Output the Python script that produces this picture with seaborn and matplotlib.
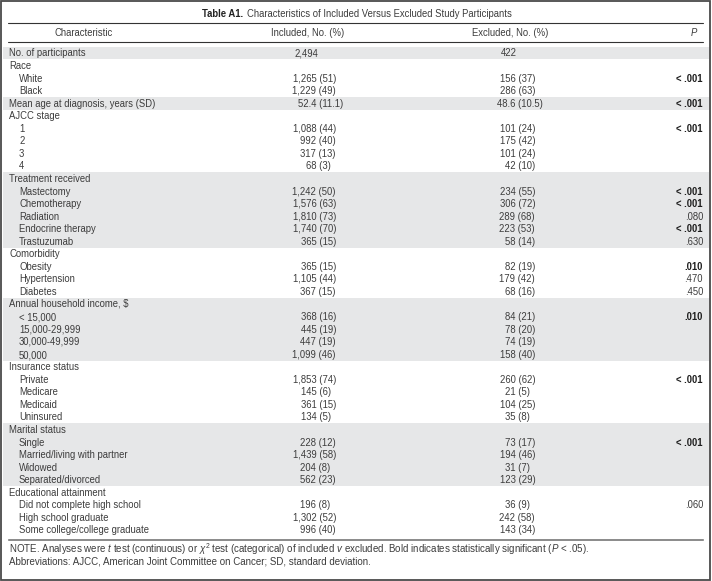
import numpy as np
import matplotlib
matplotlib.use("Agg")
import matplotlib.pyplot as plt
from matplotlib.colors import ListedColormap
from matplotlib.patches import Rectangle
from matplotlib.font_manager import FontProperties
import seaborn as sns

# table content
labels = [
    "No. of participants",
    "Race", "White", "Black",
    "Mean age at diagnosis, years (SD)",
    "AJCC stage", "1", "2", "3", "4",
    "Treatment received", "Mastectomy", "Chemotherapy", "Radiation",
    "Endocrine therapy", "Trastuzumab",
    "Comorbidity", "Obesity", "Hypertension", "Diabetes",
    "Annual household income, $", "< 15,000", "15,000-29,999",
    "30,000-49,999", "50,000",
    "Insurance status", "Private", "Medicare", "Medicaid", "Uninsured",
    "Marital status", "Single", "Married/living with partner", "Widowed",
    "Separated/divorced",
    "Educational attainment", "Did not complete high school",
    "High school graduate", "Some college/college graduate",
]
indent = [0, 0, 1, 1, 0, 0, 1, 1, 1, 1, 0, 1, 1, 1, 1, 1, 0, 1, 1, 1,
          0, 1, 1, 1, 1, 0, 1, 1, 1, 1, 0, 1, 1, 1, 1, 0, 1, 1, 1]
included = [
    "2,494", "", "1,265 (51)", "1,229 (49)", "52.4 (11.1)",
    "", "1,088 (44)", "992 (40)", "317 (13)", "68 (3)",
    "", "1,242 (50)", "1,576 (63)", "1,810 (73)", "1,740 (70)", "365 (15)",
    "", "365 (15)", "1,105 (44)", "367 (15)",
    "", "368 (16)", "445 (19)", "447 (19)", "1,099 (46)",
    "", "1,853 (74)", "145 (6)", "361 (15)", "134 (5)",
    "", "228 (12)", "1,439 (58)", "204 (8)", "562 (23)",
    "", "196 (8)", "1,302 (52)", "996 (40)",
]
excluded = [
    "422", "", "156 (37)", "286 (63)", "48.6 (10.5)",
    "", "101 (24)", "175 (42)", "101 (24)", "42 (10)",
    "", "234 (55)", "306 (72)", "289 (68)", "223 (53)", "58 (14)",
    "", "82 (19)", "179 (42)", "68 (16)",
    "", "84 (21)", "78 (20)", "74 (19)", "158 (40)",
    "", "260 (62)", "21 (5)", "104 (25)", "35 (8)",
    "", "73 (17)", "194 (46)", "31 (7)", "123 (29)",
    "", "36 (9)", "242 (58)", "143 (34)",
]
p_values = [
    "", "", "< .001", "", "< .001",
    "", "< .001", "", "", "",
    "", "< .001", "< .001", ".080", "< .001", ".630",
    "", ".010", ".470", ".450",
    "", ".010", "", "", "",
    "", "< .001", "", "", "",
    "", "< .001", "", "", "",
    "", ".060", "", "",
]
headers = ["Characteristic", "Included, No. (%)", "Excluded, No. (%)", "P"]
title_bold = "Table A1."
title_rest = "Characteristics of Included Versus Excluded Study Participants"
notes = [
    r"NOTE. Analyses were $t$ test (continuous) or $\chi^2$ test (categorical) of included $v$ excluded. "
    r"Bold indicates statistically significant ($P$ < .05).",
    "Abbreviations: AJCC, American Joint Committee on Cancer; SD, standard deviation.",
]

sns.set_theme(style="white")
FAMILY = ["Liberation Sans", "DejaVu Sans"]
plt.rcParams["font.family"] = FAMILY
plt.rcParams["mathtext.fontset"] = "custom"
plt.rcParams["mathtext.rm"] = "Liberation Sans"
plt.rcParams["mathtext.it"] = "Liberation Sans:italic"
plt.rcParams["mathtext.bf"] = "Liberation Sans:bold"

W, H = 712, 581
ROW_TOP = 46.8
ROW_H = 12.55
FS = 6.85
BASE = 3.4  # centre-to-baseline offset in px
TXT = "#3c3c3c"
SHADE = "#e6e7e8"

n = len(labels)
# alternate shading per group (a group starts at each unindented row)
group = np.cumsum([1 if i == 0 else 0 for i in indent]) - 1
shaded = (group % 2 == 0).astype(float).reshape(-1, 1)

fig = plt.figure(figsize=(W / 100, H / 100), dpi=100)

# row shading drawn as a one-column heatmap under the text
body = fig.add_axes([3 / W, 1 - (ROW_TOP + n * ROW_H) / H, 706 / W, n * ROW_H / H])
sns.heatmap(shaded, ax=body, cmap=ListedColormap(["white", SHADE]), vmin=0, vmax=1,
            cbar=False, xticklabels=False, yticklabels=False)
body.axis("off")

ax = fig.add_axes([0, 0, 1, 1])
ax.set_zorder(2)
ax.set_xlim(0, W)
ax.set_ylim(H, 0)
ax.axis("off")

renderer = fig.canvas.get_renderer()
fp = FontProperties(family=FAMILY, size=FS)


def text_w(s):
    return renderer.get_text_width_height_descent(s, fp, ismath=False)[0]


SPACE_W = text_w("a a") - text_w("aa")


def txt(x, y, s, ha="left", **kw):
    kw.setdefault("fontsize", FS)
    kw.setdefault("color", TXT)
    return ax.text(x, round(y + BASE), s, ha=ha, va="baseline", **kw)


# frame and rules
ax.add_patch(Rectangle((1, 0.8), W - 2.6, H - 1.8, fill=False, ec="#4a4a4a", lw=1.3))
ax.plot([8, 703], [23, 23], color="#333333", lw=0.8)
ax.plot([8, 703], [41.5, 41.5], color="#333333", lw=0.8)
ax.plot([8, 703], [538.5, 538.5], color="#8a8a8a", lw=0.7)
ax.plot([8, 703], [540, 540], color="#8a8a8a", lw=0.7)

# title: bold lead-in followed by regular text, centred as a whole
t1 = txt(0, 14, title_bold + " ", fontweight="bold", color="#222222")
t2 = txt(0, 14, title_rest)
fig.canvas.draw()
w1 = t1.get_window_extent().width
w2 = t2.get_window_extent().width
x0 = 356 - (w1 + w2) / 2
t1.set_x(x0)
t2.set_x(x0 + w1 + 2)

hy = 33
txt(84, hy, headers[0], ha="center")
txt(308, hy, headers[1], ha="center")
txt(510, hy, headers[2], ha="center")
txt(694, hy, headers[3], ha="center", fontstyle="italic")


def put_value(x_paren, y, s):
    # one string per cell, shifted so that the "(" lines up down the column
    if not s:
        return
    if "(" in s:
        num = s.split(" ", 1)[0]
        txt(x_paren - text_w(num) - SPACE_W, y, s)
    else:
        txt(x_paren - 1, y, s, ha="right")


for i in range(n):
    y = ROW_TOP + (i + 0.5) * ROW_H
    txt(9 + 10 * indent[i], y, labels[i])
    put_value(319, y, included[i])
    put_value(518, y, excluded[i])
    p = p_values[i]
    if p:
        sig = p.startswith("<") or float(p) < 0.05
        txt(703, y, p, ha="right", fontweight="bold" if sig else "normal",
            color="#1e1e1e" if sig else TXT)

txt(9, 550, notes[0], fontsize=7.0)
txt(9, 562, notes[1], fontsize=7.0)

fig.savefig("out.png", dpi=100)
